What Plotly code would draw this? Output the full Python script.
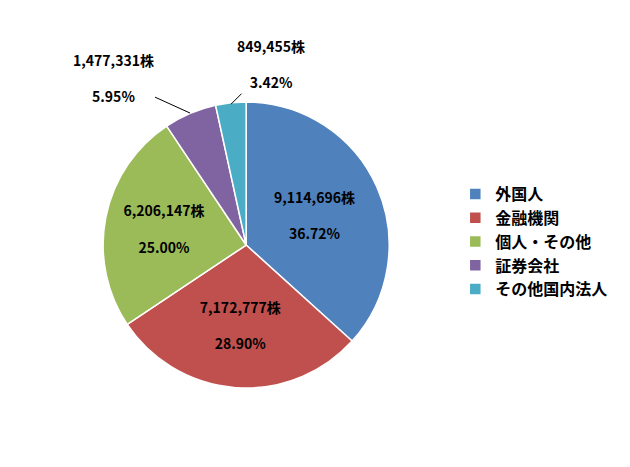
import plotly.graph_objects as go

labels = ["外国人", "金融機関", "個人・その他", "証券会社", "その他国内法人"]
values = [9114696, 7172777, 6206147, 1477331, 849455]
colors = ["#4F81BD", "#C0504D", "#9BBB59", "#8064A2", "#4BACC6"]

total = sum(values)
gap = "<br><span style='font-size:8px'> </span><br>"
texts = [f"<b>{v:,}株{gap}{v/total*100:.2f}%</b>" for v in values]
inside = [t if i < 3 else "" for i, t in enumerate(texts)]

fig = go.Figure(go.Pie(
    labels=[f"<b>{l}</b>" for l in labels], values=values, sort=False,
    direction="clockwise", rotation=0,
    marker=dict(colors=colors, line=dict(color="white", width=1.5)),
    text=inside, textinfo="text", textposition="inside",
    insidetextorientation="horizontal", hoverinfo="label+value",
    textfont=dict(family="Noto Sans CJK JP", size=14, color="black"),
    domain=dict(x=[0.151, 0.605], y=[0.186, 0.799]),
))
ann_font = dict(family="Noto Sans CJK JP", size=14, color="black")
fig.add_annotation(x=0.289, y=0.775, xref="paper", yref="paper", text=texts[3],
                   showarrow=True, arrowhead=0, arrowwidth=1, arrowcolor="black",
                   ax=-77, ay=-35, font=ann_font, align="center")
fig.add_annotation(x=0.354, y=0.794, xref="paper", yref="paper", text=texts[4],
                   showarrow=True, arrowhead=0, arrowwidth=1, arrowcolor="black",
                   ax=40, ay=-40, font=ann_font, align="center")
fig.update_layout(
    width=630, height=467, margin=dict(l=0, r=0, t=0, b=0),
    paper_bgcolor="white", showlegend=True,
    font=dict(family="Noto Sans CJK JP", size=14, color="black"),
    legend=dict(x=0.71, y=0.5, yanchor="middle", font=dict(size=16)),
)
fig.write_html("out.html")
